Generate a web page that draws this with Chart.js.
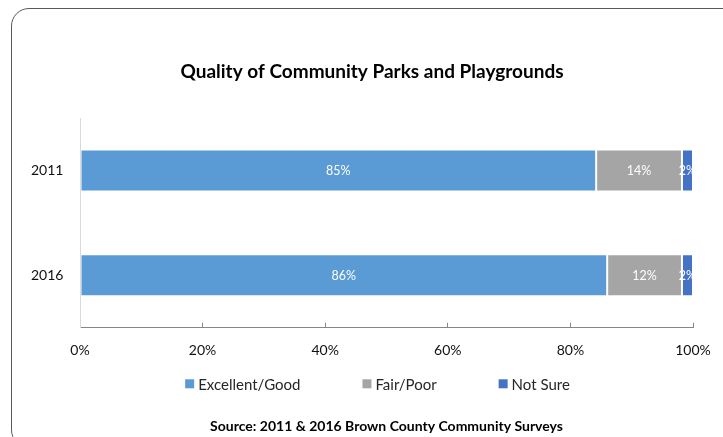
<!DOCTYPE html>
<html>
<head>
<meta charset="utf-8">
<script src="https://cdn.jsdelivr.net/npm/chart.js@4.4.0/dist/chart.umd.min.js"></script>
<style>
  html, body { margin: 0; padding: 0; background: #fff; overflow: hidden; }
  body { width: 723px; height: 437px; position: relative; }
  #frame {
    position: absolute; left: 11px; top: 8px; width: 760px; height: 440px;
    border: 1.5px solid #595959; border-radius: 18px; box-sizing: border-box;
  }
  #parksChart { position: absolute; left: 21px; top: 0; }
</style>
</head>
<body>
<div id="frame"></div>
<canvas id="parksChart" width="702" height="437"></canvas>
<script>
// survey years (categories)
const years = ['2011', '2016'];

// share of answers per year (percent)
const excellentGood = [84.2, 86.0];
const fairPoor = [14.0, 12.2];
const notSure = [1.8, 1.8];

// labels printed on the bars, as shown in the report
const excellentText = ['85%', '86%'];
const fairText = ['14%', '12%'];
const notSureText = ['2%', '2%'];

const seriesNames = ['Excellent/Good', 'Fair/Poor', 'Not Sure'];
const seriesColors = ['#5B9BD5', '#A5A5A5', '#4472C4'];
const barText = [excellentText, fairText, notSureText];

const FONT = 'Lato, "Open Sans", sans-serif';

// white value labels centred in every segment
const barLabels = {
  id: 'barLabels',
  afterDatasetsDraw(chart) {
    const ctx = chart.ctx;
    ctx.save();
    ctx.font = '12.5px ' + FONT;
    ctx.fillStyle = '#ffffff';
    ctx.textAlign = 'center';
    ctx.textBaseline = 'middle';
    chart.data.datasets.forEach((ds, i) => {
      chart.getDatasetMeta(i).data.forEach((bar, j) => {
        ctx.fillText(barText[i][j], (bar.x + bar.base) / 2, bar.y + 1);
      });
    });
    ctx.restore();
  }
};

// legend drawn by hand so the item spacing can be wider than the row height
const wideLegend = {
  id: 'wideLegend',
  afterDraw(chart) {
    const ctx = chart.ctx;
    const area = chart.chartArea;
    const box = 9, gap = 62;
    ctx.save();
    ctx.font = '15px ' + FONT;
    ctx.textBaseline = 'middle';
    const items = chart.data.datasets.map(ds => ({
      text: ds.label,
      color: ds.backgroundColor,
      w: box + 4 + ctx.measureText(ds.label).width
    }));
    const total = items.reduce((s, it) => s + it.w, 0) + gap * (items.length - 1);
    let x = (area.left + area.right) / 2 - 9 - total / 2;
    const y = area.bottom + 56;
    items.forEach(it => {
      ctx.fillStyle = it.color;
      ctx.fillRect(x, y - box / 2, box, box);
      ctx.fillStyle = '#262626';
      ctx.fillText(it.text, x + box + 4, y + 1);
      x += it.w + gap;
    });
    ctx.restore();
  }
};

const ctx = document.getElementById('parksChart').getContext('2d');
new Chart(ctx, {
  type: 'bar',
  data: {
    labels: years,
    datasets: [
      { label: seriesNames[0], data: excellentGood, backgroundColor: seriesColors[0] },
      { label: seriesNames[1], data: fairPoor, backgroundColor: seriesColors[1] },
      { label: seriesNames[2], data: notSure, backgroundColor: seriesColors[2] }
    ]
  },
  options: {
    indexAxis: 'y',
    responsive: false,
    animation: false,
    devicePixelRatio: 1,
    datasets: {
      bar: {
        barPercentage: 1,
        categoryPercentage: 0.4,
        borderWidth: 1,
        borderSkipped: false,
        borderColor: 'rgba(255,255,255,0.35)'
      }
    },
    layout: { padding: { left: 30, right: 30, top: 0, bottom: 0 } },
    scales: {
      x: {
        stacked: true,
        min: 0,
        max: 100,
        afterFit: scale => {
          scale.height = 31;
          scale.paddingLeft = 0;
          scale.paddingRight = 15;
        },
        ticks: {
          stepSize: 20,
          padding: 19,
          color: '#111',
          font: { family: FONT, size: 14 },
          callback: v => v + '%'
        },
        grid: { drawOnChartArea: false, tickLength: -5, color: '#868686' },
        border: { color: '#868686', width: 1 }
      },
      y: {
        stacked: true,
        afterFit: scale => { scale.width = 29; },
        ticks: {
          // mirrored so the labels are not clipped to the narrow scale box,
          // then pulled back to the left of the axis
          mirror: true,
          crossAlign: 'near',
          padding: -49,
          color: '#111',
          font: { family: FONT, size: 14 }
        },
        grid: { drawOnChartArea: false, drawTicks: false },
        border: { color: '#d9d9d9', width: 1 }
      }
    },
    plugins: {
      legend: { display: false },
      tooltip: { enabled: false },
      title: {
        display: true,
        text: 'Quality of Community Parks and Playgrounds',
        color: '#000',
        font: { family: FONT, size: 19, weight: 'bold' },
        padding: { top: 60.6, bottom: 34.6 }
      },
      subtitle: {
        display: true,
        position: 'bottom',
        fullSize: false,
        text: 'Source: 2011 & 2016 Brown County Community Surveys',
        color: '#000',
        font: { family: FONT, size: 14, weight: 'bold' },
        padding: { top: 58.8, bottom: 2.6 }
      }
    }
  },
  plugins: [barLabels, wideLegend]
});
</script>
</body>
</html>
